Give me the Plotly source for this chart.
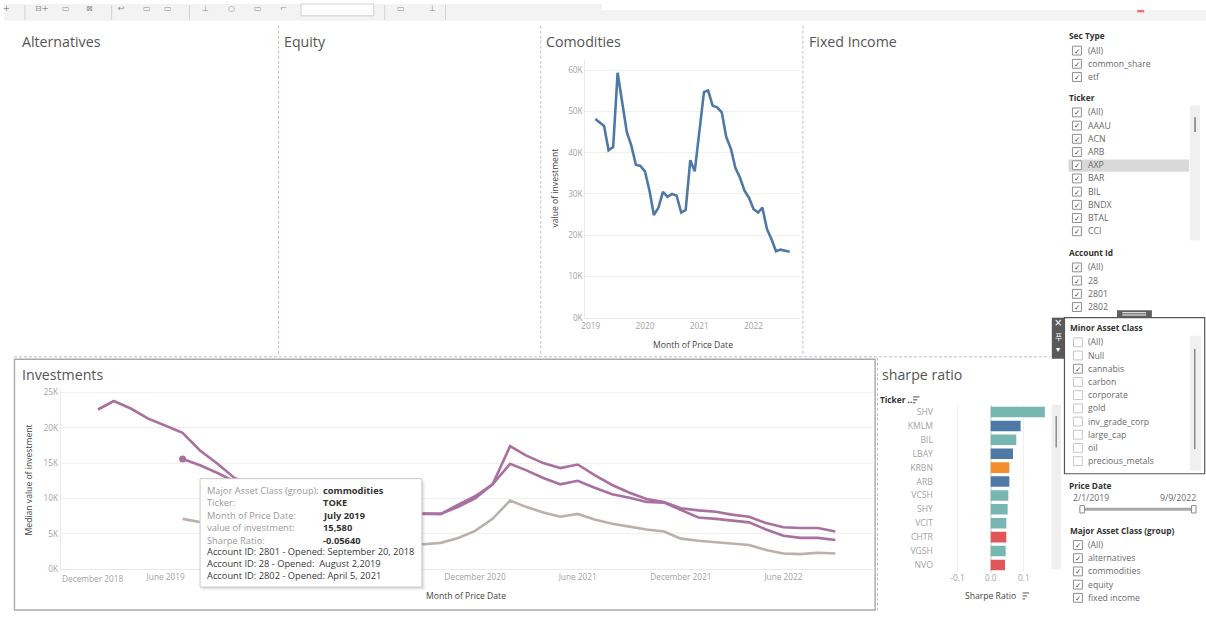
import pandas as pd
import plotly.graph_objects as go

W, H = 1206, 618
FONT = "Open Sans"
SYMBOLS = "DejaVu Sans"

BLUE = "#4e79a7"
PURPLE = "#a9719f"
TAUPE = "#bab0ac"
TICK_GREY = "#a3a3a3"

# ---------------- Comodities: value of investment per month ----------------
com_months = pd.date_range("2019-02-01", "2022-09-01", freq="MS")
com_value = [48200, 47300, 46500, 40600, 41400, 59400, 51800, 45000, 41800, 37100, 36800,
             35500, 30700, 24900, 26700, 30500, 29300, 30000, 29600, 25500, 26100, 38200, 35500,
             45000, 54700, 55100, 51400, 51000, 49800, 43800, 41000, 36300, 34000, 30800, 29100,
             26300, 25500, 26700, 21500, 19100, 16100, 16500, 16300, 16000]
com_y_ticks = [0, 10000, 20000, 30000, 40000, 50000, 60000]
com_y_text = ["0K", "10K", "20K", "30K", "40K", "50K", "60K"]
com_x_ticks = ["2019-01-01", "2020-01-01", "2021-01-01", "2022-01-01"]
com_x_text = ["2019", "2020", "2021", "2022"]

# ---------------- Investments: median value of investment ----------------
inv_months_a = pd.date_range("2019-02-01", "2022-09-01", freq="MS")
inv_value_a = [22600, 23800, 22700, 21300, 20300, 19300, 16800, 14900, 12900, 12000, 11300,
               10800, 10200, 8100, 8700, 9100, 8800, 8400, 8000, 7800, 7800, 9100, 10300,
               12000, 17400, 16100, 15000, 14300, 14800, 13300, 11900, 10800, 9900, 9500, 8600,
               8300, 8100, 7700, 7400, 6500, 5900, 5800, 5800, 5300]
toke_months = pd.date_range("2019-07-01", "2022-09-01", freq="MS")
toke_value = [15580, 14700, 13600, 12400, 11600, 11000,
              10500, 9900, 7800, 8400, 8900, 8600, 8200, 7900, 7800, 7800, 8800, 10000,
              12000, 14900, 14000, 12900, 12000, 12500, 11500, 10600, 10100, 9500, 9400, 8400,
              7300, 7100, 6900, 6600, 5600, 4700, 4400, 4400, 4100]
inv_months_c = pd.date_range("2019-07-01", "2022-09-01", freq="MS")
inv_value_c = [7100, 6700, 6200, 5800, 5400, 5100,
               4800, 4500, 3200, 3600, 3900, 3700, 3600, 3500, 3500, 3700, 4400, 5400,
               7100, 9700, 8800, 8000, 7400, 7800, 7000, 6400, 6000, 5600, 5300, 4300,
               4000, 3800, 3600, 3400, 2700, 2200, 2100, 2300, 2200]
inv_y_ticks = [0, 5000, 10000, 15000, 20000, 25000]
inv_y_text = ["0K", "5K", "10K", "15K", "20K", "25K"]
# labels under the open tooltip (December 2019, June 2020) are not shown
inv_x_ticks = ["2018-12-01", "2019-06-01", "2020-12-01", "2021-06-01", "2021-12-01", "2022-06-01"]
inv_x_text = ["December 2018", "June 2019", "December 2020", "June 2021", "December 2021", "June 2022"]

# ---------------- Sharpe ratio by ticker ----------------
sharpe_tickers = ["SHV", "KMLM", "BIL", "LBAY", "KRBN", "ARB", "VCSH", "SHY", "VCIT", "CHTR", "VGSH", "NVO"]
sharpe_values = [0.163, 0.090, 0.077, 0.067, 0.056, 0.056, 0.053, 0.051, 0.047, 0.047, 0.045, 0.043]
sharpe_group = ["fixed income", "alternatives", "fixed income", "alternatives", "commodities",
                "alternatives", "fixed income", "fixed income", "fixed income", "equity",
                "fixed income", "equity"]
group_colors = {"fixed income": "#76b7b2", "alternatives": "#4e79a7",
                "commodities": "#f28e2b", "equity": "#e15759"}
sharpe_x_ticks = [-0.1, 0.0, 0.1]
sharpe_x_text = ["-0.1", "0.0", "0.1"]

# ---------------- Tooltip content ----------------
tip_labels = ["Major Asset Class (group):", "Ticker:", "Month of Price Date:",
              "value of investment:", "Sharpe Ratio:"]
tip_values = ["commodities", "TOKE", "July 2019", f"{toke_value[0]:,}", "-0.05640"]
tip_accounts = ["Account ID: 2801 - Opened: September 20, 2018",
                "Account ID: 28 - Opened:  August 2,2019",
                "Account ID: 2802 - Opened: April 5, 2021"]

# ---------------- Filter cards ----------------
sec_types = [("(All)", True), ("common_share", True), ("etf", True)]
ticker_filter = [("(All)", True), ("AAAU", True), ("ACN", True), ("ARB", True), ("AXP", True),
                 ("BAR", True), ("BIL", True), ("BNDX", True), ("BTAL", True), ("CCI", True)]
account_ids = [("(All)", True), ("28", True), ("2801", True), ("2802", True)]
minor_classes = [("(All)", False), ("Null", False), ("cannabis", True), ("carbon", False),
                 ("corporate", False), ("gold", False), ("inv_grade_corp", False),
                 ("large_cap", False), ("oil", False), ("precious_metals", False)]
major_classes = [("(All)", True), ("alternatives", True), ("commodities", True),
                 ("equity", True), ("fixed income", True)]
price_date_range = ("2/1/2019", "9/9/2022")

panel_titles = [("Alternatives", 18), ("Equity", 281), ("Comodities", 544), ("Fixed Income", 808)]


def yd(y):
    return 1 - y / H


shapes = []
annos = []


def box(x0, y0, x1, y1, fill="rgba(0,0,0,0)", color=None, width=1, dash="solid"):
    shapes.append(dict(type="rect", xref="paper", yref="paper", layer="above",
                       x0=x0 / W, x1=x1 / W, y0=yd(y1), y1=yd(y0), fillcolor=fill,
                       line=dict(color=color or "rgba(0,0,0,0)", width=width if color else 0, dash=dash)))


def seg(x0, y0, x1, y1, color, width=1, dash="solid"):
    shapes.append(dict(type="line", xref="paper", yref="paper", layer="above",
                       x0=x0 / W, x1=x1 / W, y0=yd(y0), y1=yd(y1),
                       line=dict(color=color, width=width, dash=dash)))


def text(x, y, s, size=8.7, color="#666", anchor="left", family=FONT, angle=0):
    annos.append(dict(x=x / W, y=yd(y), xref="paper", yref="paper", text=s, showarrow=False,
                      xanchor=anchor, yanchor="middle", textangle=angle, borderpad=0,
                      font=dict(size=size, color=color, family=family)))


def checkbox(x, y, checked):
    box(x, y - 4.5, x + 9, y + 4.5, fill="white", color="#8f8f8f" if checked else "#c8c8c8")
    if checked:
        text(x + 4.6, y + 0.4, "✓", size=7.5, color="#444", anchor="center", family=SYMBOLS)


def sort_icon(x, y):
    for i, ln in enumerate([6.5, 4.5, 2.5]):
        seg(x, y - 3 + 3 * i, x + ln, y - 3 + 3 * i, "#555", 1)


# ---- toolbar strip ----
box(0, 0, 1206, 17, fill="#f3f3f3")
box(600, 0, 1206, 6, fill="white")
for sx in [21, 108, 186, 382, 443]:
    seg(sx, 1, sx, 16, "#d2d2d2", 1)
box(298, 0, 371, 12, fill="white", color="#cfcfcf")
for ix, glyph in [(3, "+"), (38, "⊟+"), (62, "▭"), (86, "⊠"), (118, "↩"), (143, "▭"), (165, "▭"),
                  (202, "⊥"), (228, "○"), (255, "▭"), (280, "⌐"), (398, "▭"), (430, "⊥")]:
    text(ix, 4.5, glyph, size=8, color="#8a8a8a", anchor="center", family=SYMBOLS)
box(1137, 6, 1144, 8.5, fill="#ea6f78")

# ---- dashboard dividers ----
DASH = "#b7c0d8"
for vx in [275.5, 538.5, 801.5]:
    seg(vx, 22, vx, 357, DASH, 1, "3px,2px")
seg(10, 358, 1050, 358, DASH, 1, "3px,2px")
seg(876.5, 359, 876.5, 616, DASH, 1, "3px,2px")
box(10.5, 360.5, 874, 615, color="#a9a9a9", width=1.4)

for t, tx in panel_titles:
    text(tx - 1, 38, t, size=14.2, color="#555")
text(17, 376, "Investments", size=14.2, color="#555")
text(880, 376, "sharpe ratio", size=14.2, color="#555")

# ---- axis titles ----
text(691, 345.7, "Month of Price Date", size=8.6, color="#444", anchor="center")
text(553.3, 186.7, "value of investment", size=8.6, color="#444", anchor="center", angle=-90)
text(464, 600.7, "Month of Price Date", size=8.6, color="#444", anchor="center")
text(26, 482.5, "Median value of investment", size=8.6, color="#444", anchor="center", angle=-90)
text(990, 600.7, "Sharpe Ratio", size=8.6, color="#444", anchor="center")
sort_icon(1022, 600.7)
text(878, 401.7, "<b>Ticker ..</b>", size=8.3, color="#333")
sort_icon(912, 401.7)

# first investments tick label sits inside the plot edge
annos.append(dict(x=inv_x_ticks[0], y=yd(583.3), xref="x2", yref="paper", text=inv_x_text[0],
                  showarrow=False, xanchor="center", yanchor="middle", xshift=29.5,
                  font=dict(size=8.3, color=TICK_GREY, family=FONT)))

# sharpe scroll bar
box(1051, 406.7, 1060.5, 573.3, fill="#efefef")
seg(1055.7, 418, 1055.7, 450, "#8c8c8c", 1.5)

# ---- tooltip ----
box(199.5, 484.5, 422.5, 595, fill="rgba(0,0,0,0.05)")
box(198, 483, 421, 593.5, fill="rgba(0,0,0,0.07)")
box(196.7, 481.7, 419.3, 591.7, fill="white", color="#c8c8c8")
row_y = [493.7, 506, 518.7, 531.7, 544, 556, 568, 580]
for i, (lab, val) in enumerate(zip(tip_labels, tip_values)):
    text(202.7, row_y[i], lab, size=9.3, color="#9a9a9a")
    text(319, row_y[i], f"<b>{val}</b>", size=9.3, color="#333")
for j, acc in enumerate(tip_accounts):
    text(202.7, row_y[5 + j], acc, size=9.3, color="#3a3a3a")

# ---- filter cards ----
HEAD = "#333"
ITEM = "#6a6a6a"
text(1068, 32.3, "<b>Sec Type</b>", size=8.3, color=HEAD)
for i, (name, on) in enumerate(sec_types):
    y = 47.3 + 13.4 * i
    checkbox(1072, y, on)
    text(1086.5, y, name, color=ITEM)

text(1068, 95, "<b>Ticker</b>", size=8.3, color=HEAD)
box(1190, 103, 1200, 240, fill="#f0f0f0")
seg(1195, 115, 1195, 130, "#7a7a7a", 1.5)
box(1068, 157.7, 1189, 170.3, fill="#d9d9d9")
for i, (name, on) in enumerate(ticker_filter):
    y = 110 + 13.4 * i
    checkbox(1072, y, on)
    text(1086.5, y, name, color=ITEM)

text(1068, 252.3, "<b>Account Id</b>", size=8.3, color=HEAD)
for i, (name, on) in enumerate(account_ids):
    y = 267.3 + 13.4 * i
    checkbox(1072, y, on)
    text(1086.5, y, name, color=ITEM)

# floating minor asset class card
box(1116.7, 310.7, 1151.7, 318.3, fill="#5e5e5e")
seg(1122, 313.3, 1146, 313.3, "white", 1)
seg(1122, 315.6, 1146, 315.6, "white", 1)
box(1051.3, 318.3, 1064, 360, fill="#595959")
text(1057.6, 323.5, "×", size=10, color="white", anchor="center", family=SYMBOLS)
text(1057.6, 337, "푸", size=8, color="white", anchor="center", family="Noto Sans CJK KR")
text(1057.6, 350.5, "▾", size=8, color="white", anchor="center", family=SYMBOLS)
box(1064, 318.3, 1204.7, 476.7, fill="white", color="#555", width=1.2)
box(1189.7, 336.7, 1201.3, 473.3, fill="#f0f0f0")
seg(1194.7, 350, 1194.7, 451.7, "#8a8a8a", 1.5)
text(1068.7, 328.3, "<b>Minor Asset Class</b>", size=8.3, color=HEAD)
for i, (name, on) in enumerate(minor_classes):
    y = 343.3 + 13.4 * i
    checkbox(1073, y, on)
    text(1087, y, name, color=ITEM)

text(1068, 488.5, "<b>Price Date</b>", size=8.3, color=HEAD)
text(1072, 501, price_date_range[0], color=ITEM)
text(1197, 501, price_date_range[1], color=ITEM, anchor="right")
seg(1079, 512.7, 1194, 512.7, "#a8a8a8", 3)
box(1079.5, 509, 1084, 516.5, fill="white", color="#8a8a8a")
box(1191.5, 509, 1196, 516.5, fill="white", color="#8a8a8a")

text(1068.7, 534, "<b>Major Asset Class (group)</b>", size=8.3, color=HEAD)
for i, (name, on) in enumerate(major_classes):
    y = 549 + 13.4 * i
    checkbox(1073, y, on)
    text(1087, y, name, color=ITEM)

# ---------------- traces ----------------
fig = go.Figure()
fig.add_trace(go.Scatter(x=com_months, y=com_value, mode="lines", xaxis="x", yaxis="y",
                         line=dict(color=BLUE, width=2.6)))
fig.add_trace(go.Scatter(x=inv_months_c, y=inv_value_c, mode="lines", xaxis="x2", yaxis="y2",
                         line=dict(color=TAUPE, width=2.6)))
fig.add_trace(go.Scatter(x=inv_months_a, y=inv_value_a, mode="lines", xaxis="x2", yaxis="y2",
                         line=dict(color=PURPLE, width=2.6)))
fig.add_trace(go.Scatter(x=toke_months, y=toke_value, mode="lines", xaxis="x2", yaxis="y2",
                         line=dict(color=PURPLE, width=2.6)))
fig.add_trace(go.Scatter(x=toke_months[:1], y=toke_value[:1], mode="markers", xaxis="x2", yaxis="y2",
                         marker=dict(color=PURPLE, size=7)))
fig.add_trace(go.Bar(x=sharpe_values, y=sharpe_tickers, orientation="h", xaxis="x3", yaxis="y3",
                     marker=dict(color=[group_colors[g] for g in sharpe_group], line=dict(width=0))))

tickfont = dict(size=8.3, color=TICK_GREY, family=FONT)
AXLINE = "#e9e9e9"
GRID = "#f0f0f0"

fig.update_layout(
    width=W, height=H, autosize=False,
    margin=dict(l=0, r=0, t=0, b=0),
    paper_bgcolor="white", plot_bgcolor="white",
    showlegend=False, hovermode=False, bargap=0.24,
    font=dict(family=FONT),
    xaxis=dict(domain=[583.3 / W, 798.3 / W], anchor="y", type="date",
               range=["2018-11-26", "2022-11-07"],
               tickvals=com_x_ticks, ticktext=com_x_text, tickfont=tickfont,
               showgrid=False, zeroline=False, showline=True, linecolor=AXLINE, ticks=""),
    yaxis=dict(domain=[yd(318.3), yd(56.7)], anchor="x", range=[0, 62530],
               tickvals=com_y_ticks, ticktext=com_y_text, tickfont=tickfont,
               showgrid=True, gridcolor=GRID, zeroline=False, showline=True, linecolor=AXLINE,
               ticks=""),
    xaxis2=dict(domain=[57 / W, 872 / W], anchor="y2", type="date",
                range=["2018-11-27", "2022-11-07"],
                tickvals=inv_x_ticks[1:], ticktext=inv_x_text[1:], tickfont=tickfont,
                showgrid=False, zeroline=False, showline=True, linecolor=AXLINE, ticks=""),
    yaxis2=dict(domain=[yd(573.3), yd(392)], anchor="x2", range=[0, 25320],
                tickvals=inv_y_ticks, ticktext=inv_y_text, tickfont=tickfont,
                showgrid=True, gridcolor=GRID, zeroline=False, showline=True, linecolor=AXLINE,
                ticks=""),
    xaxis3=dict(domain=[933 / W, 1051 / W], anchor="y3", range=[-0.171, 0.183],
                tickvals=sharpe_x_ticks, ticktext=sharpe_x_text, tickfont=tickfont,
                showgrid=True, gridcolor=GRID, zeroline=True, zerolinecolor="#e2e2e2",
                showline=False, ticks=""),
    yaxis3=dict(domain=[yd(576.3), yd(407)], anchor="x3", type="category",
                categoryorder="array", categoryarray=sharpe_tickers, autorange="reversed",
                tickfont=dict(size=8.6, color=TICK_GREY, family=FONT),
                showgrid=False, zeroline=False, showline=False, ticks=""),
    shapes=shapes,
    annotations=annos,
)

fig.write_html("out.html", config={"displayModeBar": False})
